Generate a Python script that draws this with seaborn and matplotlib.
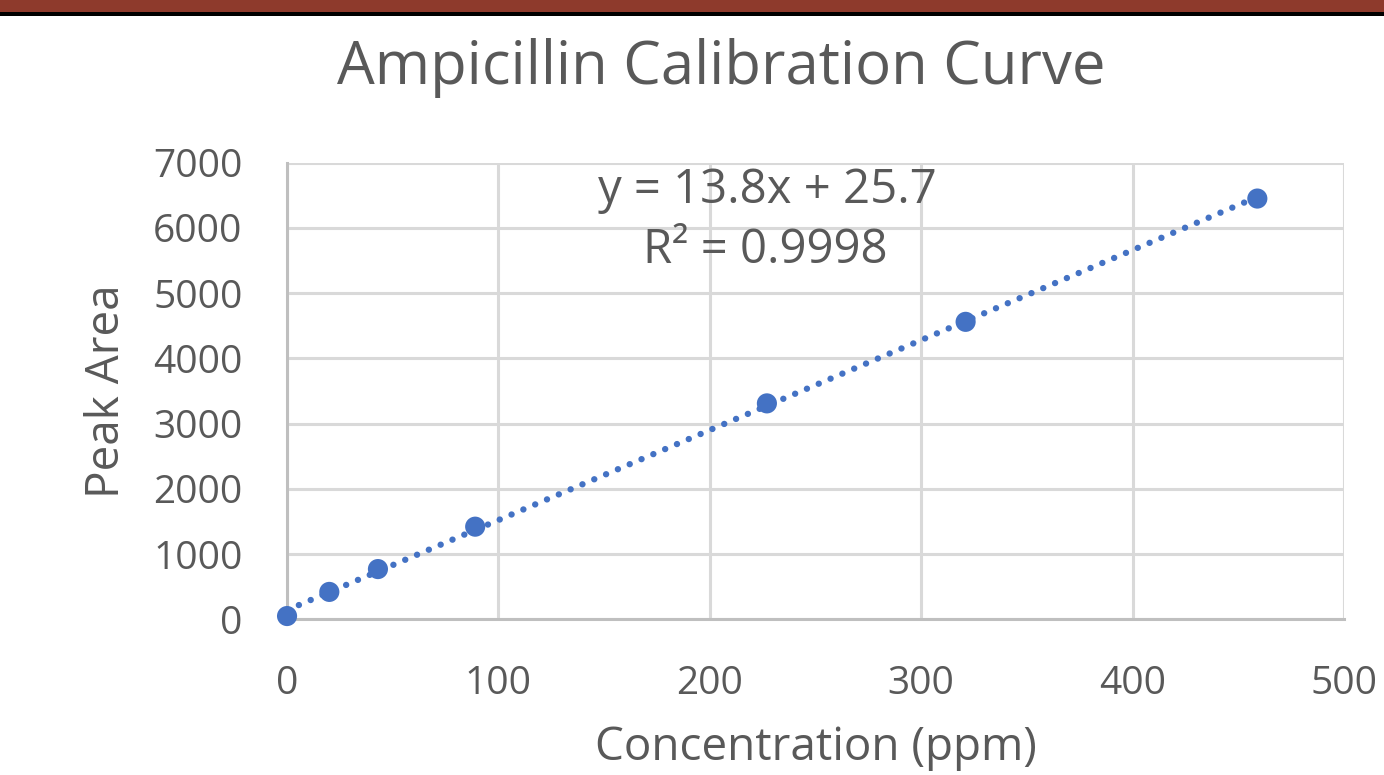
import numpy as np
import pandas as pd
import matplotlib.pyplot as plt
from matplotlib.patches import Rectangle
import seaborn as sns

# values
concentration = [0, 20, 43, 89, 227, 321, 459]
peak_area = [50, 420, 770, 1420, 3310, 4560, 6450]
equation_text = "y = 13.8x + 25.7"
r2_text = "R² = 0.9998"
x_ticks = [0, 100, 200, 300, 400, 500]
y_ticks = [0, 1000, 2000, 3000, 4000, 5000, 6000, 7000]

sns.set_style("whitegrid")
plt.rcParams['font.family'] = ['Open Sans', 'DejaVu Sans']

blue = '#4472C4'
grey_text = '#595959'
grid_col = '#D9D9D9'

df = pd.DataFrame({'x': concentration, 'y': peak_area})

# linear trendline over the data range
slope, intercept = np.polyfit(df['x'], df['y'], 1)
trend = pd.DataFrame({'x': [df['x'].min(), df['x'].max()]})
trend['y'] = slope * trend['x'] + intercept

fig = plt.figure(figsize=(13.84, 7.75), dpi=100)
ax = fig.add_axes([0.2074, 0.2009, 0.7637, 0.5892])

sns.lineplot(data=trend, x='x', y='y', ax=ax, color=blue, linewidth=4.6,
             linestyle=(0, (0.01, 2.0)), zorder=3)
ax.lines[-1].set_dash_capstyle('round')
ax.lines[-1].set_clip_on(False)
sns.scatterplot(data=df, x='x', y='y', ax=ax, color=blue, s=210,
                edgecolor='none', zorder=4, clip_on=False)

ax.set_xlim(0, 500)
ax.set_ylim(0, 7000)
ax.set_xticks(x_ticks)
ax.set_yticks(y_ticks)
ax.grid(True, color=grid_col, linewidth=2.2)
for side in ['top', 'right']:
    ax.spines[side].set_visible(False)
ax.spines['left'].set_color('#BFBFBF')
ax.spines['bottom'].set_color('#BFBFBF')
ax.spines['left'].set_linewidth(2.2)
ax.spines['bottom'].set_linewidth(2.2)
ax.tick_params(axis='both', length=0, labelsize=28, labelcolor=grey_text)
ax.tick_params(axis='y', pad=32)
ax.tick_params(axis='x', pad=33)

ax.set_xlabel('Concentration (ppm)', fontsize=33, color=grey_text, va='center')
ax.set_ylabel('Peak Area', fontsize=33, color=grey_text, va='center')
ax.xaxis.set_label_coords(0.5, (619.3 - 748) / 456.6)
ax.yaxis.set_label_coords((107 - 287) / 1057, 0.50)

fig.text(767 / 1384, 1 - 190 / 775, equation_text, ha='center', va='center',
         fontsize=34, color=grey_text)
fig.text(765 / 1384, 1 - 250 / 775, r2_text, ha='center', va='center',
         fontsize=34, color=grey_text)

fig.text(721 / 1384, 1 - 68 / 775, 'Ampicillin Calibration Curve', ha='center',
         va='center', fontsize=43, color=grey_text)

# header band at the top of the slide
fig.patches.append(Rectangle((0, 1 - 12 / 775), 1, 12 / 775, transform=fig.transFigure,
                             facecolor='#8E3A2C', edgecolor='none'))
fig.patches.append(Rectangle((0, 1 - 16 / 775), 1, 4 / 775, transform=fig.transFigure,
                             facecolor='black', edgecolor='none'))

fig.savefig('out.png', dpi=100)
